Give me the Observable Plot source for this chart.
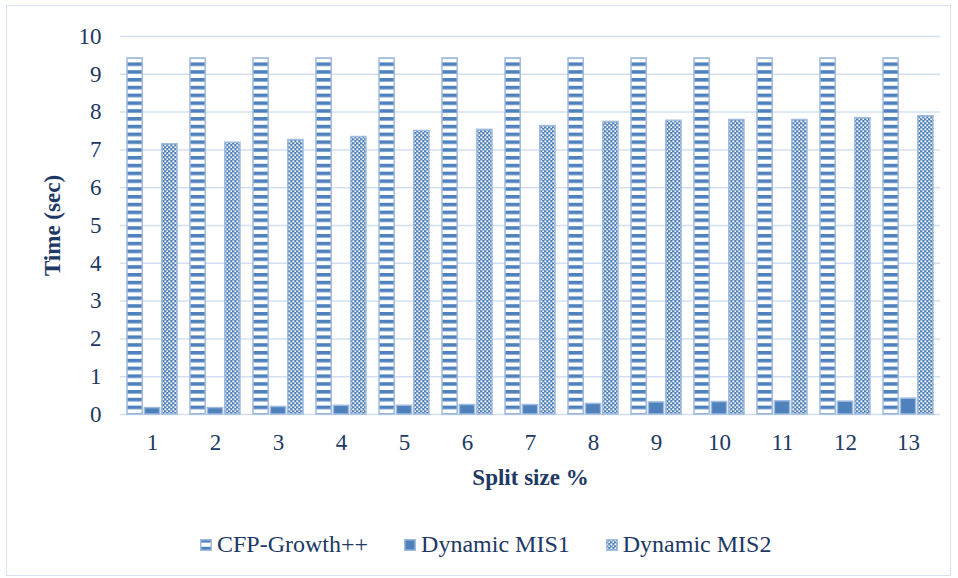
<!DOCTYPE html>
<html>
<head>
<meta charset="utf-8">
<script src="https://cdn.jsdelivr.net/npm/d3@7"></script>
<script src="https://cdn.jsdelivr.net/npm/@observablehq/plot@0.6"></script>
<style>
  body { margin: 0; background: #fff; font-family: "Liberation Serif", "Times New Roman", serif; }
  #frame { position: absolute; left: 6px; top: 5px; width: 945px; height: 571px; border: 1.5px solid #d6e1f1; box-sizing: border-box; }
  #chart { position: absolute; left: 0; top: 0; }
  #chart [aria-label$="axis label"] { font-weight: bold; }
  #legend { position: absolute; left: 200px; top: 531px; display: flex; align-items: center; gap: 36px;
            font-family: "Liberation Serif", serif; font-size: 24px; color: #203864; white-space: nowrap; }
  #legend .item { display: flex; align-items: center; gap: 5px; }
  #legend svg { display: block; }
  #defs { position: absolute; width: 0; height: 0; }
</style>
</head>
<body>
<svg id="defs" width="0" height="0">
  <defs>
    <pattern id="fill-stripes" patternUnits="userSpaceOnUse" width="6" height="7.8">
      <rect width="6" height="7.8" fill="#ffffff"></rect>
      <rect y="0" width="6" height="3.6" fill="#4f81bd"></rect>
    </pattern>
    <pattern id="fill-dots" patternUnits="userSpaceOnUse" width="4" height="4">
      <rect width="4" height="4" fill="#4f81bd"></rect>
      <rect x="0.4" y="0.4" width="1.9" height="1.9" fill="#ffffff"></rect>
      <rect x="2.4" y="2.4" width="1.9" height="1.9" fill="#ffffff"></rect>
    </pattern>
  </defs>
</svg>
<div id="frame"></div>
<div id="chart"></div>
<div id="legend"></div>
<script>
// Split sizes (%) along the x axis
const splits = [1, 2, 3, 4, 5, 6, 7, 8, 9, 10, 11, 12, 13];

// Running time in seconds for each algorithm
const cfpGrowth = [9.42, 9.42, 9.42, 9.42, 9.42, 9.42, 9.42, 9.42, 9.42, 9.42, 9.42, 9.42, 9.42];
const dynamicMis1 = [0.17, 0.17, 0.20, 0.23, 0.23, 0.25, 0.25, 0.28, 0.32, 0.33, 0.35, 0.34, 0.42];
const dynamicMis2 = [7.15, 7.19, 7.26, 7.34, 7.50, 7.53, 7.63, 7.74, 7.77, 7.79, 7.79, 7.84, 7.89];

const seriesNames = ["CFP-Growth++", "Dynamic MIS1", "Dynamic MIS2"];
const seriesValues = [cfpGrowth, dynamicMis1, dynamicMis2];
const seriesFills = ["url(#fill-stripes)", "#4f81bd", "url(#fill-dots)"];
const yTicks = [0, 1, 2, 3, 4, 5, 6, 7, 8, 9, 10];

// Layout of the plot area and of the three bars inside each split band
const W = 958, H = 500, ML = 120, MR = 18, MT = 36, MB = 86;
const padInner = 0.2, padOuter = 0.1;
const bandStep = (W - ML - MR) / (splits.length - padInner + 2 * padOuter);
const bandWidth = bandStep * (1 - padInner);
const barStep = bandWidth / (seriesNames.length - 0.1);
const barWidth = barStep * 0.9;

const barMarks = seriesNames.map((name, k) =>
  Plot.barY(splits.map((s, i) => ({split: s, series: name, time: seriesValues[k][i]})), {
    x: "split",
    y: "time",
    fill: seriesFills[k],
    stroke: "#9fbade",
    strokeWidth: 1.5,
    insetLeft: k * barStep,
    insetRight: bandWidth - k * barStep - barWidth
  })
);

const chart = Plot.plot({
  width: W,
  height: H,
  marginLeft: ML,
  marginRight: MR,
  marginTop: MT,
  marginBottom: MB,
  style: {fontFamily: "'Liberation Serif', 'Times New Roman', serif", fontSize: "23px", color: "#203864", background: "transparent"},
  x: {type: "band", domain: splits, paddingInner: padInner, paddingOuter: padOuter},
  y: {domain: [0, 10]},
  marks: [
    Plot.ruleY(yTicks, {stroke: "#d3dff1", strokeWidth: 1.5}),
    ...barMarks,
    Plot.axisY({ticks: yTicks, tickSize: 0, tickPadding: 19, label: "Time (sec)", labelAnchor: "center", labelOffset: 77, labelArrow: "none"}),
    Plot.axisX({tickSize: 0, tickPadding: 19, label: "Split size %", labelAnchor: "center", labelOffset: 70, labelArrow: "none"})
  ]
});
document.getElementById("chart").appendChild(chart);

// Legend built from the same series names and fills
const legend = d3.select("#legend");
seriesNames.forEach((name, i) => {
  const item = legend.append("div").attr("class", "item");
  const sw = item.append("svg").attr("width", 12).attr("height", 12);
  sw.append("rect").attr("x", 0.75).attr("y", 0.75).attr("width", 10.5).attr("height", 10.5)
    .attr("fill", seriesFills[i]).attr("stroke", "#9fbade").attr("stroke-width", 1.5);
  item.append("span").text(name);
});
</script>
</body>
</html>
